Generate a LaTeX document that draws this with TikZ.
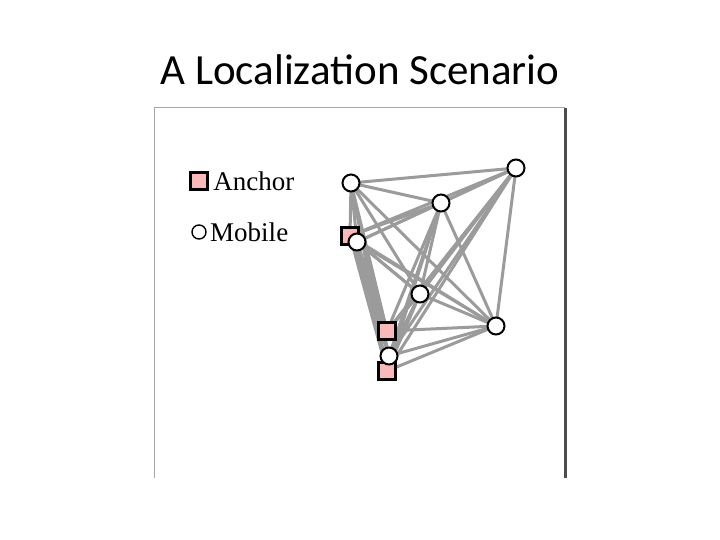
\documentclass[tikz,border=0pt]{standalone}
\usepackage{fontspec}
\setmainfont{Liberation Serif}
\newfontfamily\titlefont{Carlito}
\usepackage{xcolor}
\usetikzlibrary{positioning}
\definecolor{anchorfill}{RGB}{250,185,185}
\definecolor{edgegray}{RGB}{155,155,155}

\begin{document}
\begin{tikzpicture}[
    x=1pt, y=-1pt,
    anchornode/.style={draw, line width=2.6pt, fill=anchorfill, rectangle, minimum size=17pt, inner sep=0pt},
    mobilenode/.style={draw, line width=2pt, fill=white, circle, minimum size=17pt, inner sep=0pt},
    link/.style={edgegray, line width=3pt}
]
\useasboundingbox (0,0) rectangle (720,540);

% title
\node[font=\titlefont\fontsize{43}{48}\selectfont] (title) at (360,70) {A Localization Scenario};

% frame
\draw[gray!70, line width=1pt] (565,108) -- (154,108) -- (154,478);
\draw[gray!60!black, line width=3pt] (565,108) -- (565,478);

% nodes
\coordinate (pa1) at (350,236);
\coordinate (pa2) at (387,331);
\coordinate (pa3) at (387,371);
\coordinate (pm1) at (351,183);
\coordinate (pm2) at (441,203);
\coordinate (pm3) at (516,168);
\coordinate (pm4) at (357,242);
\coordinate (pm5) at (420,294);
\coordinate (pm6) at (496,326);
\coordinate (pm7) at (389,356);

% links
\foreach \i/\j in {a1/m1,a1/m2,a1/m3,a1/m5,a1/m6,a1/a2,a1/m7,a1/a3,
                   m1/m2,m1/m3,m1/m4,m1/m5,m1/m6,m1/a2,m1/m7,m1/a3,
                   m2/m3,m2/m4,m2/m5,m2/m6,m2/a2,m2/m7,m2/a3,
                   m3/m4,m3/m5,m3/m6,m3/a2,m3/m7,m3/a3,
                   m4/m5,m4/m6,m4/a2,m4/m7,m4/a3,
                   m5/m6,m5/a2,m5/m7,m5/a3,
                   m6/a2,m6/m7,m6/a3}
    \draw[link] (p\i) -- (p\j);

\node[anchornode] (a1) at (pa1) {};
\node[anchornode] (a2) at (pa2) {};
\node[anchornode] (a3) at (pa3) {};
\foreach \k in {1,...,7}
    \node[mobilenode] (m\k) at (pm\k) {};

% legend
\node[anchornode, minimum size=17pt] (keyanchor) at (199,181) {};
\node[right=1pt of keyanchor, font=\fontsize{27}{30}\selectfont] (keyanchortext) {Anchor};
\node[mobilenode, minimum size=14pt, line width=1.4pt] (keymobile) at (199,232) {};
\node[right=0pt of keymobile, font=\fontsize{27}{30}\selectfont] (keymobiletext) {Mobile};

\end{tikzpicture}
\end{document}
